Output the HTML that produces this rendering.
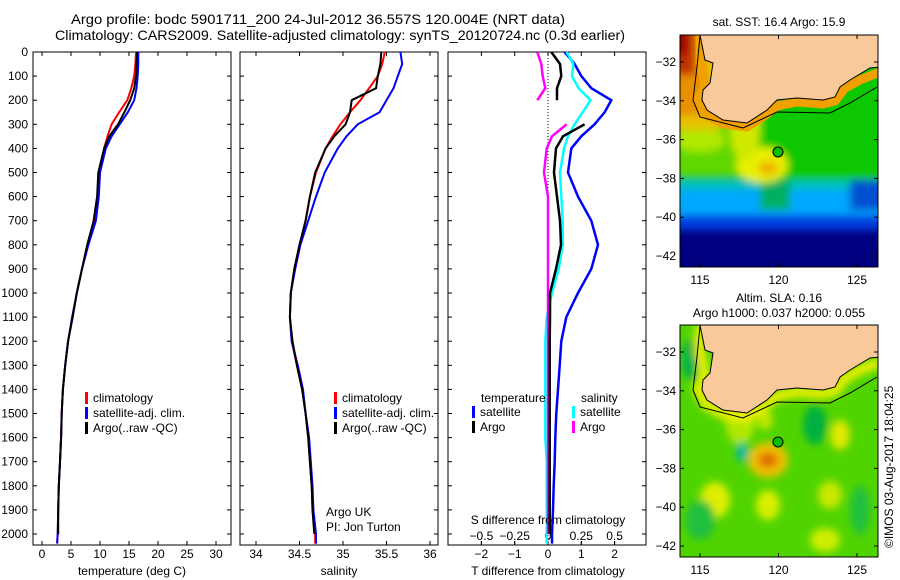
<!DOCTYPE html>
<html><head><meta charset="utf-8"><style>
body{margin:0;background:#fff;}
svg{display:block;font-family:"Liberation Sans",sans-serif;}
text{font-size:12px;fill:#000;}
</style></head><body>
<svg id="c" width="900" height="580" viewBox="0 0 900 580">
<defs>
<filter id="bl" x="-20%" y="-20%" width="140%" height="140%"><feGaussianBlur stdDeviation="4"/></filter>
<clipPath id="m1c"><rect x="680" y="35" width="198" height="232"/></clipPath>
<clipPath id="m2c"><rect x="680" y="325" width="198" height="232"/></clipPath>
</defs>
<text x="71" y="24" textLength="494" lengthAdjust="spacingAndGlyphs" style="font-size:14px">Argo profile: bodc 5901711_200 24-Jul-2012 36.557S 120.004E (NRT data)</text>
<text x="55" y="40" textLength="570" lengthAdjust="spacingAndGlyphs" style="font-size:14px">Climatology: CARS2009. Satellite-adjusted climatology: synTS_20120724.nc (0.3d earlier)</text>

<!-- SST map -->
<g clip-path="url(#m1c)">
<rect x="680" y="35" width="198" height="232" fill="#000080"/>
<g filter="url(#bl)">
<rect x="670" y="25" width="220" height="205" fill="#0040e0"/>
<rect x="670" y="25" width="220" height="190" fill="#00a8ff"/>
<rect x="670" y="25" width="220" height="165" fill="#00c0c0"/>
<rect x="850" y="140" width="40" height="70" fill="#0050d0"/>
<rect x="670" y="25" width="220" height="155" fill="#10c800"/>
<rect x="670" y="25" width="90" height="150" fill="#60d800"/>
<rect x="760" y="180" width="30" height="30" fill="#00b060"/>
<ellipse cx="762" cy="165" rx="26" ry="18" fill="#e8f000"/>
<ellipse cx="768" cy="168" rx="10" ry="7" fill="#f0b000"/>
<ellipse cx="745" cy="130" rx="15" ry="30" fill="#d0e800"/>
<ellipse cx="700" cy="140" rx="25" ry="12" fill="#b0e800"/>
<rect x="670" y="25" width="50" height="105" fill="#e8c000"/>
<rect x="670" y="25" width="35" height="90" fill="#e89000"/>
<rect x="670" y="25" width="25" height="50" fill="#c03000"/>
<rect x="670" y="25" width="18" height="30" fill="#a00000"/>
</g>
<path d="M700,35 L700,62 L705,85 L698,100 L707,115 L723,124 L747,127 L767,114 L777,106 L797,102 L823,104 L835,101 L845,88 L860,80 L880,72" fill="none" stroke="#f0a000" stroke-width="9"/>
<path d="M700,35 L705,60 L713,63 L710,83 L703,90 L702,100 L707,110 L723,120 L747,123 L767,110 L777,100 L797,98 L823,100 L835,97 L840,87 L850,80 L870,68 L880,67 L880,35 Z" fill="#f9c99a" stroke="#000" stroke-width="1"/>
<path d="M700,36 L697,67 L693,100 L700,117 L743,128 L777,112 L830,113 L850,103 L877,87" fill="none" stroke="#000" stroke-width="1"/>
<circle cx="778" cy="152" r="5" fill="#00c000" stroke="#000"/>
</g>
<rect x="680" y="35" width="198" height="232" fill="none" stroke="#000"/>
<text x="779" y="26" text-anchor="middle">sat. SST: 16.4 Argo: 15.9</text>

<!-- SLA map -->
<g clip-path="url(#m2c)">
<rect x="680" y="325" width="198" height="232" fill="#50d400"/>
<g filter="url(#bl)">
<ellipse cx="690" cy="360" rx="8" ry="20" fill="#00b050"/>
<ellipse cx="740" cy="420" rx="15" ry="25" fill="#b0e800"/>
<ellipse cx="765" cy="420" rx="8" ry="10" fill="#c0e800"/>
<ellipse cx="742" cy="452" rx="6" ry="10" fill="#00b8a0"/>
<ellipse cx="815" cy="425" rx="12" ry="20" fill="#00b040"/>
<ellipse cx="840" cy="435" rx="10" ry="15" fill="#e0e800"/>
<ellipse cx="768" cy="460" rx="20" ry="18" fill="#f0c000"/>
<ellipse cx="768" cy="460" rx="10" ry="8" fill="#e07000"/>
<ellipse cx="715" cy="500" rx="15" ry="18" fill="#e0ee00"/>
<ellipse cx="768" cy="505" rx="12" ry="15" fill="#d8ee00"/>
<ellipse cx="830" cy="495" rx="12" ry="14" fill="#c8e800"/>
<ellipse cx="825" cy="540" rx="15" ry="12" fill="#d0ee00"/>
<ellipse cx="700" cy="520" rx="15" ry="20" fill="#20c040"/>
<ellipse cx="860" cy="510" rx="10" ry="25" fill="#20c040"/>
<path d="M700,325 L700,352 L705,375 L698,390 L707,405 L723,414 L747,417 L767,404 L777,396 L797,392 L823,394 L835,391 L845,378 L860,370 L880,362" fill="none" stroke="#f0f000" stroke-width="10"/>
</g>
<path d="M700,325 L705,350 L713,353 L710,373 L703,380 L702,390 L707,400 L723,410 L747,413 L767,400 L777,390 L797,388 L823,390 L835,387 L840,377 L850,370 L870,358 L880,357 L880,325 Z" fill="#f9c99a" stroke="#000" stroke-width="1"/>
<path d="M700,326 L697,357 L693,390 L700,407 L743,418 L777,402 L830,403 L850,393 L877,377" fill="none" stroke="#000" stroke-width="1"/>
<circle cx="778" cy="442" r="5" fill="#00c000" stroke="#000"/>
</g>
<rect x="680" y="325" width="198" height="232" fill="none" stroke="#000"/>
<text x="779" y="302" text-anchor="middle">Altim. SLA: 0.16</text>
<text x="779" y="317" text-anchor="middle">Argo h1000: 0.037 h2000: 0.055</text>
<text transform="translate(893,548) rotate(-90)">©IMOS 03-Aug-2017 18:04:25</text>
<g id="dyn"></g>
</svg>
<script>
// depth levels (dbar)
const depths = [0,50,100,150,200,250,300,350,400,500,600,700,800,900,1000,1100,1200,1300,1400,1500,1600,1700,1800,1900,2000,2040];
// temperature (deg C)
const tempClim = [16.2,16.1,15.9,15.4,14.7,13.3,12.0,11.3,10.7,10.0,9.7,9.0,7.9,6.9,6.0,5.2,4.5,4.0,3.6,3.4,3.3,3.1,2.9,2.8,2.7,2.6];
const tempSat  = [16.6,16.6,16.5,16.3,15.9,14.8,13.4,12.0,11.0,10.0,9.8,9.3,8.0,6.9,6.0,5.2,4.5,4.0,3.6,3.4,3.3,3.1,2.9,2.8,2.7,2.6];
const tempArgo = [16.4,16.3,16.2,15.9,15.2,14.2,13.1,11.6,10.7,9.7,9.5,8.9,7.8,6.9,6.0,5.3,4.5,4.0,3.6,3.4,3.3,3.1,2.9,2.8,2.8,null];
// salinity
const salClim = [35.48,35.45,35.40,35.30,35.20,35.08,34.97,34.88,34.80,34.69,34.62,34.57,34.50,34.44,34.40,34.39,34.41,34.47,34.53,34.57,34.60,34.62,34.64,34.65,34.68,34.68];
const salSat  = [35.66,35.68,35.63,35.58,35.50,35.42,35.17,35.04,34.94,34.79,34.69,34.60,34.51,34.45,34.40,34.39,34.41,34.48,34.54,34.57,34.61,34.63,34.65,34.66,34.69,34.69];
const salArgo = [35.44,35.43,35.40,35.38,35.10,35.08,35.03,34.90,34.80,34.68,34.62,34.57,34.50,34.44,34.40,34.39,34.42,34.47,34.53,34.57,34.60,34.62,34.64,34.65,34.67,null];
// differences from climatology
const dTsat  = [0.5,0.8,1.0,1.3,1.9,1.7,1.4,1.0,0.7,0.6,0.9,1.3,1.5,1.3,0.9,0.55,0.4,0.35,0.3,0.25,0.22,0.2,0.17,0.15,0.12,0.12];
const dTargo = [0.1,0.36,0.4,0.27,0.27,null,1.1,0.45,0.24,0.18,0.27,0.36,0.39,0.24,0.06,0.06,0.05,0.05,0.05,0.05,0.05,0.05,0.05,0.05,0.05,null];
const dSsat  = [0.14,0.19,0.18,0.23,0.32,0.26,0.2,0.15,0.12,0.09,0.1,0.11,0.11,0.08,0.03,-0.01,-0.02,-0.02,-0.02,-0.02,-0.02,-0.01,-0.01,-0.01,-0.01,-0.01];
const dSargo = [-0.08,-0.05,-0.04,-0.02,-0.08,null,0.14,0.03,-0.01,-0.03,0,0,0,0,0,0,0,0,0,0,0,0,0,0,0,null];
const depthTicks = [0,100,200,300,400,500,600,700,800,900,1000,1100,1200,1300,1400,1500,1600,1700,1800,1900,2000];
const tempTicks = [0,5,10,15,20,25,30];
const salTicks = [34,34.5,35,35.5,36];
const dTTicks = [-2,-1,0,1,2];
const dSTicks = [-0.5,-0.25,0,0.25,0.5];

const NS='http://www.w3.org/2000/svg';
const root=document.getElementById('dyn');
function el(t,a,p){const e=document.createElementNS(NS,t);for(const k in a)e.setAttribute(k,a[k]);(p||root).appendChild(e);return e;}
const TOP=52,BOT=545;
const yD=d=>TOP+d*0.241;
const xT=t=>42+5.8*t;
const xS=s=>256+87*(s-34);
const xDT=t=>548+33.3*t;
const xDS=s=>548+133.2*s;

function panel(name,x0){
  const r=el('rect',{x:x0,y:TOP,width:198,height:BOT-TOP,fill:'none',stroke:'#000'});
  
  
  depthTicks.forEach(d=>{
    el('line',{x1:x0,x2:x0+4,y1:yD(d),y2:yD(d),stroke:'#000'});
    el('line',{x1:x0+198,x2:x0+194,y1:yD(d),y2:yD(d),stroke:'#000'});
  });
}
function xticks(vals,fx,labY,fmt,top){
  vals.forEach(v=>{
    const x=fx(v);
    el('line',{x1:x,x2:x,y1:BOT,y2:BOT-4,stroke:'#000'});
    if(top) el('line',{x1:x,x2:x,y1:TOP,y2:TOP+4,stroke:'#000'});
    const t=el('text',{x:x,y:labY,'text-anchor':'middle'});
    t.textContent=fmt(v);
    
    
  });
}
function line(vals,fx,color,name,w){
  let d='',pen=false;
  vals.forEach((v,i)=>{
    if(v===null){pen=false;return;}
    d+=(pen?'L':'M')+fx(v).toFixed(1)+','+yD(depths[i]).toFixed(1);pen=true;
  });
  const p=el('path',{d:d,fill:'none',stroke:color,'stroke-width':w||2});
  
  
}
function legend(x,y,items){
  items.forEach((it,i)=>{
    el('rect',{x:x,y:y+i*15-10,width:3,height:12,fill:it[0]});
    const t=el('text',{x:x+8,y:y+i*15});
    t.textContent=it[1];
    
    
  });
}
const fmtS=v=>String(v).replace('-','\u2212');
depthTicks.forEach(d=>{
  const t=el('text',{x:28,y:yD(d)+4,'text-anchor':'end'});
  t.textContent=d;
  
  
});
panel('temperature-panel',33);
xticks(tempTicks,xT,558,v=>v,true);
line(tempClim,xT,'#ff0000','temp-climatology-line');
line(tempSat,xT,'#0000ff','temp-satellite-line');
line(tempArgo,xT,'#000000','temp-argo-line');
let t=el('text',{x:132,y:575,'text-anchor':'middle'});t.textContent='temperature (deg C)';


legend(85,402,[['#ff0000','climatology'],['#0000ff','satellite-adj. clim.'],['#000','Argo(..raw -QC)']]);
panel('salinity-panel',240);
xticks(salTicks,xS,558,v=>v,true);
line(salClim,xS,'#ff0000','sal-climatology-line');
line(salSat,xS,'#0000ff','sal-satellite-line');
line(salArgo,xS,'#000000','sal-argo-line');
t=el('text',{x:339,y:575,'text-anchor':'middle'});t.textContent='salinity';


legend(334,402,[['#ff0000','climatology'],['#0000ff','satellite-adj. clim.'],['#000','Argo(..raw -QC)']]);
t=el('text',{x:326,y:516});t.textContent='Argo UK';


t=el('text',{x:326,y:531});t.textContent='PI: Jon Turton';


panel('difference-panel',448);
el('line',{x1:548,x2:548,y1:TOP,y2:BOT,stroke:'#000','stroke-dasharray':'1,2'});
xticks(dTTicks,xDT,558,fmtS,true);
xticks(dSTicks,xDS,540,fmtS,false);
line(dTsat,xDT,'#0000ff','dT-satellite-line',2.5);
line(dSsat,xDS,'#00ffff','dS-satellite-line',2.5);
line(dSargo,xDS,'#ff00ff','dS-argo-line',2.5);
line(dTargo,xDT,'#000000','dT-argo-line',2.5);
t=el('text',{x:548,y:575,'text-anchor':'middle'});t.textContent='T difference from climatology';


t=el('text',{x:548,y:524,'text-anchor':'middle'});t.textContent='S difference from climatology';


t=el('text',{x:481,y:402});t.textContent='temperature';


t=el('text',{x:581,y:402});t.textContent='salinity';


legend(472,416,[['#0000ff','satellite'],['#000','Argo']]);
legend(572,416,[['#00ffff','satellite'],['#ff00ff','Argo']]);
const lonTicks=[115,120,125], latTicks=[-32,-34,-36,-38,-40,-42];
[[0,'sst'],[290,'sla']].forEach(([off,nm])=>{
  lonTicks.forEach(l=>{
    const x=700+(l-115)*15.7;
    el('line',{x1:x,x2:x,y1:267+off,y2:263+off,stroke:'#000'});
    el('line',{x1:x,x2:x,y1:35+off,y2:39+off,stroke:'#000'});
    const tt=el('text',{x:x,y:284+off,'text-anchor':'middle'});tt.textContent=l;
    
    
  });
  latTicks.forEach(l=>{
    const y=62+off+(-32-l)*19.4;
    el('line',{x1:680,x2:684,y1:y,y2:y,stroke:'#000'});
    el('line',{x1:878,x2:874,y1:y,y2:y,stroke:'#000'});
    const tt=el('text',{x:676,y:y+4,'text-anchor':'end'});tt.textContent=fmtS(l);
    
    
  });
});
</script>
</body></html>
